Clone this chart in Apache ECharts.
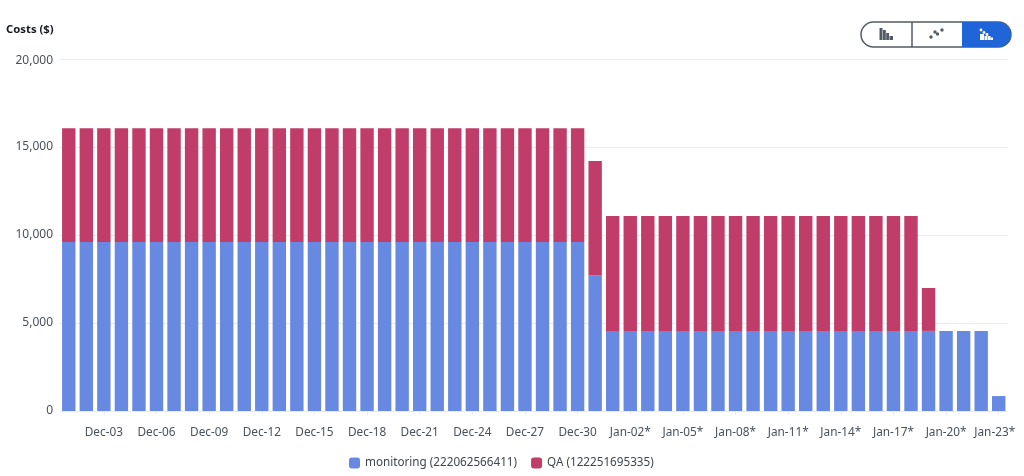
<!DOCTYPE html>
<html><head><meta charset="utf-8">
<style>html,body{margin:0;padding:0;background:#fff}#c{width:1024px;height:476px}</style>
<script src="https://cdn.jsdelivr.net/npm/echarts@6/dist/echarts.min.js"></script>
</head><body><div id="c"></div>
<script>
const categories = ["Dec-01","Dec-02","Dec-03","Dec-04","Dec-05","Dec-06","Dec-07","Dec-08","Dec-09","Dec-10","Dec-11","Dec-12","Dec-13","Dec-14","Dec-15","Dec-16","Dec-17","Dec-18","Dec-19","Dec-20","Dec-21","Dec-22","Dec-23","Dec-24","Dec-25","Dec-26","Dec-27","Dec-28","Dec-29","Dec-30","Dec-31","Jan-01*","Jan-02*","Jan-03*","Jan-04*","Jan-05*","Jan-06*","Jan-07*","Jan-08*","Jan-09*","Jan-10*","Jan-11*","Jan-12*","Jan-13*","Jan-14*","Jan-15*","Jan-16*","Jan-17*","Jan-18*","Jan-19*","Jan-20*","Jan-21*","Jan-22*","Jan-23*"];
const monitoring = [9600,9600,9600,9600,9600,9600,9600,9600,9600,9600,9600,9600,9600,9600,9600,9600,9600,9600,9600,9600,9600,9600,9600,9600,9600,9600,9600,9600,9600,9600,7700,4550,4550,4550,4550,4550,4550,4550,4550,4550,4550,4550,4550,4550,4550,4550,4550,4550,4550,4550,4550,4550,4550,850];
const qa = [6470,6470,6470,6470,6470,6470,6470,6470,6470,6470,6470,6470,6470,6470,6470,6470,6470,6470,6470,6470,6470,6470,6470,6470,6470,6470,6470,6470,6470,6470,6500,6530,6530,6530,6530,6530,6530,6530,6530,6530,6530,6530,6530,6530,6530,6530,6530,6530,6530,2440,0,0,0,0];
const seriesNames = ["monitoring (222062566411)","QA (122251695335)"];

const FONT = '"Noto Sans","Open Sans",sans-serif';
const dark = '#545b64', blueBtn = '#2065d8';
function rects(list, fill){ return list.map(r=>({type:'rect',shape:{x:r[0],y:r[1],width:r[2],height:r[3]},style:{fill},z:12})); }
function dots(list, fill, rad){ return list.map(p=>({type:'circle',shape:{cx:p[0],cy:p[1],r:rad||1.7},style:{fill},z:12})); }

const chart = echarts.init(document.getElementById('c'));
chart.setOption({
  animation:false,
  backgroundColor:'#fff',
  grid:{left:60,right:16.5,top:59,bottom:65},
  xAxis:{type:'category',data:categories,
    axisLine:{show:true,lineStyle:{color:'#e9ebed',width:1}},
    axisTick:{show:true,alignWithLabel:true,length:4,interval:(i)=>i%3===2,lineStyle:{color:'#e9ebed'}},
    axisLabel:{interval:(i)=>i%3===2,color:'#4a5159',fontSize:11.8,fontFamily:FONT,margin:16,hideOverlap:false,
      formatter:(v)=>v==='Jan-23*'?'{last|'+v+'}':v,
      rich:{last:{color:'#4a5159',fontSize:11.8,fontFamily:FONT,padding:[0,8,0,0]}}}},
  yAxis:{type:'value',min:0,max:20000,interval:5000,
    axisLine:{show:false},axisTick:{show:false},
    axisLabel:{color:'#4a5159',fontSize:12,fontFamily:FONT,margin:7,
      formatter:v=>{const s=v.toLocaleString('en-US');return v===20000?'{top|'+s+'}':s;},
      rich:{top:{color:'#4a5159',fontSize:12,fontFamily:FONT,padding:[4,0,0,0]}}},
    splitLine:{lineStyle:{color:'#e9ebed',width:1}}},
  legend:{top:457,left:349,itemWidth:11,itemHeight:11,itemGap:14,icon:'roundRect',padding:0,
    textStyle:{color:'#3f464e',fontSize:11.7,fontFamily:FONT},
    data:seriesNames},
  series:[
    {name:seriesNames[0],type:'bar',stack:'c',data:monitoring,barWidth:13.4,itemStyle:{color:'#6889e2'}},
    {name:seriesNames[1],type:'bar',stack:'c',data:qa,barWidth:13.4,itemStyle:{color:'#c03c69'}}
  ],
  graphic:[
    {type:'text',x:6,y:24,style:{text:'Costs ($)',fill:'#16191f',font:'bold 11.3px '+FONT}},
    {type:'rect',shape:{x:861,y:22,width:150,height:25,r:12.5},style:{fill:'#fff',stroke:dark,lineWidth:1.5},z:10},
    {type:'rect',shape:{x:962,y:22,width:49,height:25,r:[0,12.5,12.5,0]},style:{fill:blueBtn},z:11},
    {type:'line',shape:{x1:912,y1:22,x2:912,y2:47},style:{stroke:dark,lineWidth:1.5},z:11},
    ...rects([[879.5,28,3,12],[883,30,2.8,10],[886.2,33,2.8,7],[889.5,36,3.5,4]],'#545b64'),
    ...dots([[931,37],[935,32],[937.5,34],[942,30]],'#545b64'),
    ...rects([[980,34,4,6],[984.5,36,3,4],[988,36,2.5,4],[990.5,37.5,2.5,2.5]],'#fff'),
    ...dots([[981,30],[984,32.5],[987,34.5]],'#fff',1.4)
  ]
});
</script></body></html>
